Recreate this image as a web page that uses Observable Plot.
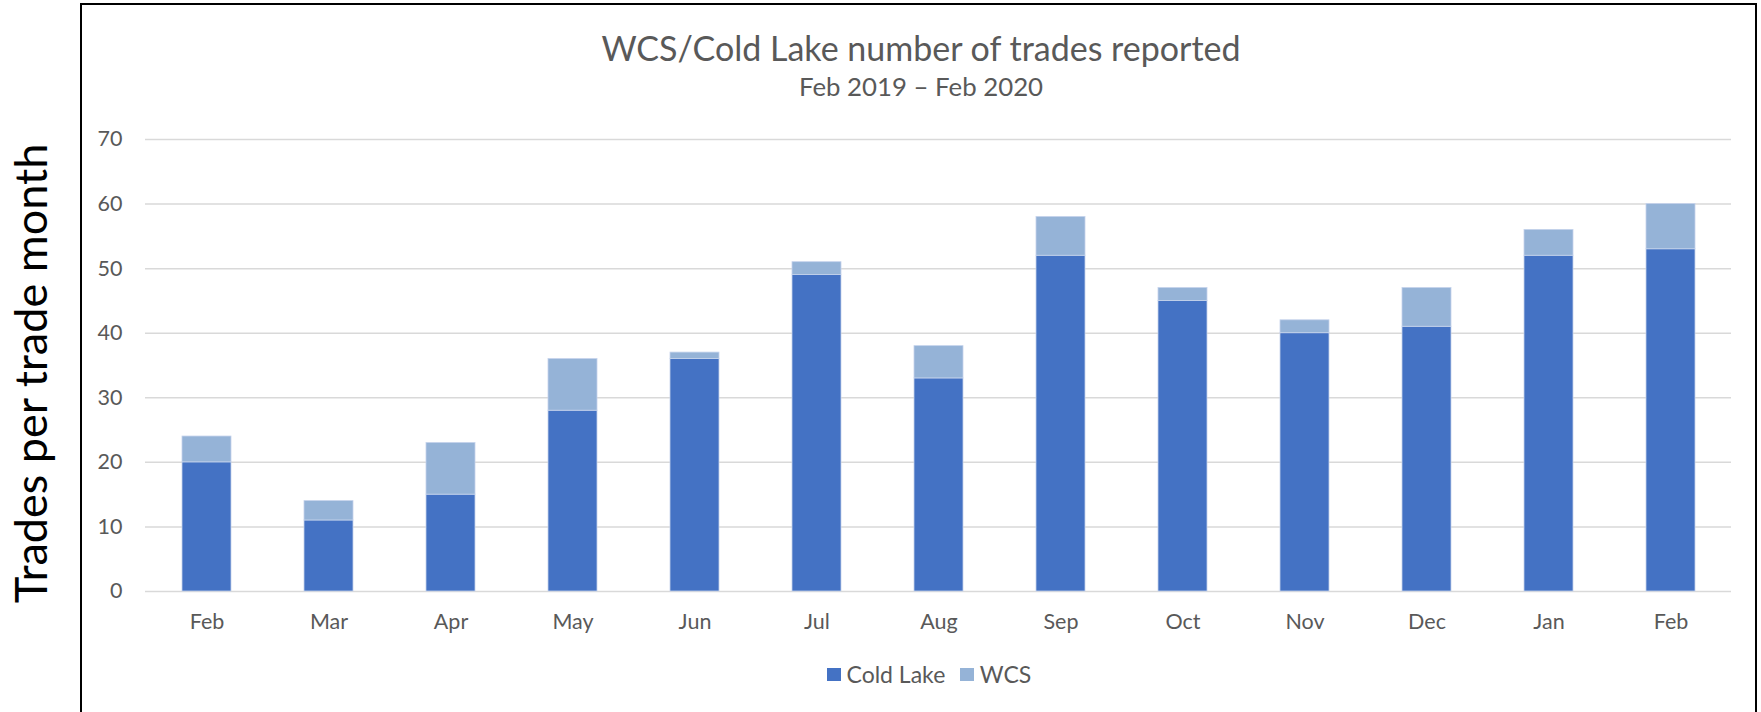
<!DOCTYPE html>
<html>
<head>
<meta charset="utf-8">
<script src="https://cdn.jsdelivr.net/npm/d3@7"></script>
<script src="https://cdn.jsdelivr.net/npm/@observablehq/plot@0.6"></script>
<style>
  html, body { margin: 0; padding: 0; background: #fff; }
  #wrap { position: relative; width: 1761px; height: 712px; overflow: hidden; font-family: Lato, sans-serif; }
  #frame { position: absolute; left: 80px; top: 3px; width: 1677px; height: 800px; border: 2px solid #000; box-sizing: border-box; }
  #plot { position: absolute; left: 0; top: 0; }
  .title { position: absolute; left: 0; width: 1842px; text-align: center; color: #595959; white-space: nowrap; }
  #t1 { top: 31px; font-size: 34px; line-height: 34px; }
  #t2 { top: 74px; font-size: 25.8px; line-height: 25.8px; }
  #legend { position: absolute; left: 827px; top: 663px; font-size: 23px; line-height: 23px; color: #595959; white-space: nowrap; display: flex; align-items: center; }
  .sw { display: inline-block; width: 13.5px; height: 13.5px; margin-right: 6px; }
  .item { display: flex; align-items: center; margin-right: 15px; }
</style>
</head>
<body>
<div id="wrap">
  <div id="frame"></div>
  <div id="plot"></div>
  <div class="title" id="t1"></div>
  <div class="title" id="t2"></div>
  <div id="legend"></div>
</div>
<script>
const title = "WCS/Cold Lake number of trades reported";
const subtitle = "Feb 2019 \u2013 Feb 2020";
const yLabel = "Trades per trade month";
const months = ["Feb","Mar","Apr","May","Jun","Jul","Aug","Sep","Oct","Nov","Dec","Jan","Feb"];
const seriesNames = ["Cold Lake", "WCS"];
const seriesColors = ["#4472C4", "#95B3D7"];
const coldLake = [20, 11, 15, 28, 36, 49, 33, 52, 45, 40, 41, 52, 53];
const wcs      = [ 4,  3,  8,  8,  1,  2,  5,  6,  2,  2,  6,  4,  7];
const yTicks = [0, 10, 20, 30, 40, 50, 60, 70];

const data = months.flatMap((m, i) => [
  {idx: i, series: seriesNames[0], value: coldLake[i]},
  {idx: i, series: seriesNames[1], value: wcs[i]}
]);

const chart = Plot.plot({
  width: 1761,
  height: 712,
  marginLeft: 145,
  marginRight: 30,
  marginTop: 139,
  marginBottom: 121,
  style: {fontFamily: "Lato, sans-serif", fontSize: "21.5px", color: "#595959", background: "transparent", overflow: "visible"},
  x: {type: "band", domain: d3.range(months.length), paddingInner: 0.6, paddingOuter: 0.3, label: null},
  y: {domain: [0, 70], label: null},
  color: {domain: seriesNames, range: seriesColors},
  marks: [
    Plot.gridY(yTicks, {stroke: "#d9d9d9", strokeOpacity: 1, strokeWidth: 1.5}),
    Plot.barY(data, Plot.stackY({x: "idx", y: "value", fill: "series", order: seriesNames, stroke: "#c5d3ec", strokeWidth: 0.8})),
    Plot.axisX({tickSize: 0, tickPadding: 22, tickFormat: i => months[i], fill: "#595959", label: null}),
    Plot.axisY(yTicks, {tickSize: 0, tickPadding: 23, fill: "#595959", label: null}),
    Plot.text([yLabel], {text: d => d, frameAnchor: "left", dx: -113, dy: 8, rotate: -90, textAnchor: "middle", fontSize: 45, fill: "#000"})
  ]
});
document.getElementById("plot").appendChild(chart);
document.getElementById("t1").textContent = title;
document.getElementById("t2").textContent = subtitle;

const legend = document.getElementById("legend");
seriesNames.forEach((name, i) => {
  const item = document.createElement("div");
  item.className = "item";
  const sw = document.createElement("span");
  sw.className = "sw";
  sw.style.background = seriesColors[i];
  const lab = document.createElement("span");
  lab.textContent = name;
  item.appendChild(sw);
  item.appendChild(lab);
  legend.appendChild(item);
});
</script>
</body>
</html>
